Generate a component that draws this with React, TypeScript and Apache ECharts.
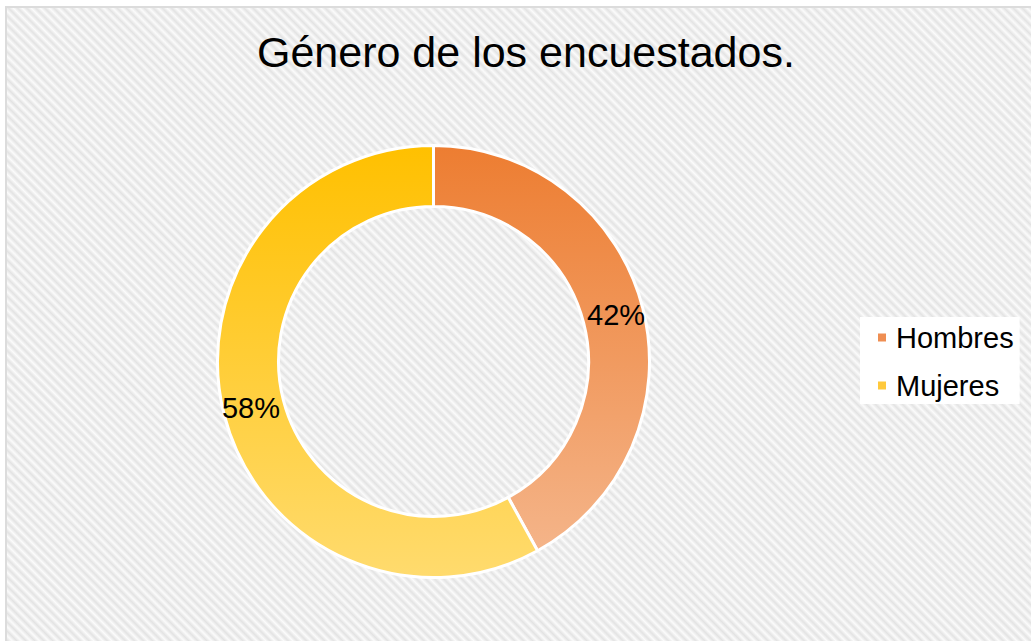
import React, { useEffect, useRef } from "react";
import * as echarts from "echarts";

const titleText = "Género de los encuestados.";
const categories = ["Hombres", "Mujeres"];
const values = [42, 58];
const topColors = ["#ED7D31", "#FFC000"];
const bottomColors = ["#F5B88F", "#FFDB6E"];
const legendColors = ["#EF8E52", "#FFC93C"];

export default function App() {
  const ref = useRef<HTMLDivElement>(null);
  useEffect(() => {
    if (!ref.current) return;
    const chart = echarts.init(ref.current, null, { renderer: "svg" });
    const font = "'Liberation Sans', Arial, sans-serif";
    chart.setOption({
      animation: false,
      backgroundColor: "transparent",
      title: {
        text: titleText,
        left: 257,
        top: 30,
        padding: 0,
        textStyle: { fontSize: 43, fontWeight: "normal", color: "#000", fontFamily: font },
      },
      legend: {
        orient: "vertical",
        left: 860,
        top: 317,
        backgroundColor: "#fff",
        padding: [6, 6, 4, 16],
        itemWidth: 10,
        itemHeight: 10,
        itemGap: 19,
        icon: "rect",
        textStyle: { fontSize: 29, color: "#000", fontFamily: font, padding: [0, 0, 0, 4] },
        data: categories.map((c, i) => ({ name: c, itemStyle: { color: legendColors[i] } })),
      },
      series: [
        {
          type: "pie",
          center: [433.5, 361.5],
          radius: [155, 216],
          startAngle: 90,
          clockwise: true,
          avoidLabelOverlap: false,
          label: {
            show: true,
            position: "inside",
            formatter: "{c}%",
            fontSize: 29,
            color: "#000",
            fontFamily: font,
          },
          labelLine: { show: false },
          emphasis: { disabled: true },
          itemStyle: { borderColor: "#fff", borderWidth: 3 },
          data: categories.map((c, i) => ({
            name: c,
            value: values[i],
            itemStyle: {
              color: {
                type: "linear",
                x: 0,
                y: 145,
                x2: 0,
                y2: 578,
                global: true,
                colorStops: [
                  { offset: 0, color: topColors[i] },
                  { offset: 1, color: bottomColors[i] },
                ],
              },
            },
          })),
        },
      ],
    });
    return () => chart.dispose();
  }, []);

  return (
    <div style={{ position: "fixed", left: 0, top: 0, width: 1031, height: 641, overflow: "hidden", background: "#fff" }}>
      <div
        style={{
          position: "absolute",
          left: 5,
          top: 6,
          width: 1100,
          height: 700,
          border: "2px solid #dcdcdc",
          background:
            "repeating-linear-gradient(45deg, #fbfbfb 0px, #e3e3e3 3.2px, #fbfbfb 6.4px)",
        }}
      />
      <div ref={ref} style={{ position: "absolute", left: 0, top: 0, width: 1031, height: 641 }} />
    </div>
  );
}
